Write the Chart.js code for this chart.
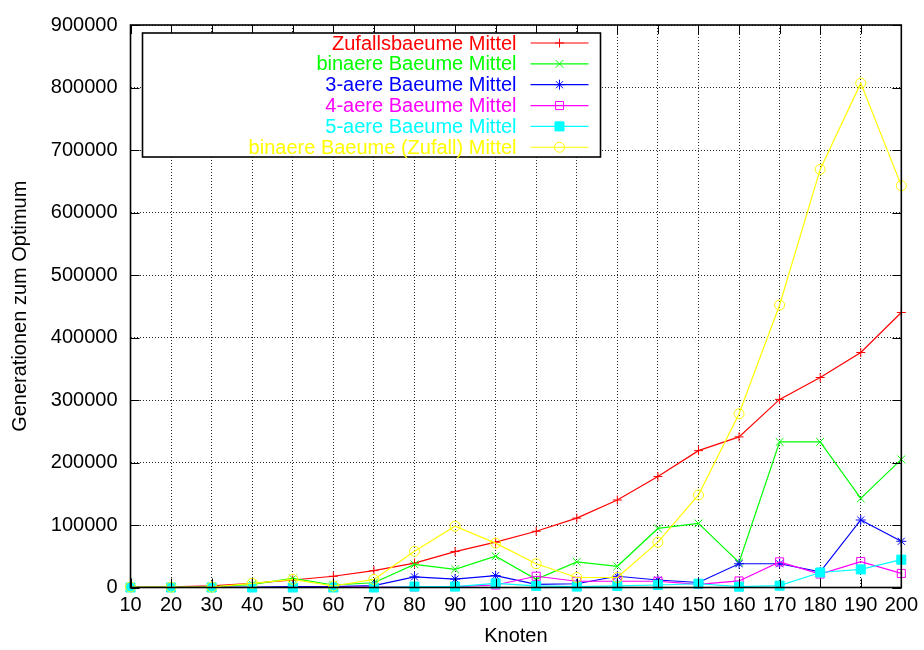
<!DOCTYPE html>
<html>
<head>
<meta charset="utf-8">
<title>Generationen zum Optimum</title>
<script src="https://cdn.jsdelivr.net/npm/chart.js"></script>
<style>
  body { margin: 0; background: #fff; }
</style>
</head>
<body>
<canvas id="chartKnoten" width="924" height="650"></canvas>
<script>
      // Knotenanzahl (x-Achse)
      const knoten = [10, 20, 30, 40, 50, 60, 70, 80, 90, 100, 110, 120, 130, 140, 150, 160, 170, 180, 190, 200];
      const yTicks = [0, 100000, 200000, 300000, 400000, 500000, 600000, 700000, 800000, 900000];

      // Mittelwerte der Generationen bis zum Optimum
      const zufallsbaeume = [300, 1000, 2500, 6500, 12000, 18000, 27000, 39000, 57500, 72500, 90000, 111000, 140000, 177500, 219000, 241000, 301000, 336000, 376000, 440000];
      const binaereBaeume = [200, 500, 1000, 5000, 14500, 4000, 7600, 37000, 29000, 50000, 13000, 41000, 34000, 94500, 102500, 40000, 233000, 233000, 142500, 205000];
      const dreiaereBaeume = [100, 200, 300, 800, 1500, 1500, 3000, 17000, 13500, 19000, 5000, 6000, 18000, 12000, 8000, 38000, 38000, 25000, 108000, 74000];
      const vieraereBaeume = [0, 0, 0, 0, 0, 200, 500, 1000, 1500, 4000, 18000, 10000, 10000, 10000, 5000, 10500, 41000, 21500, 41500, 22500];
      const fuenfaereBaeume = [0, 0, 0, 0, 0, 0, 0, 1500, 1500, 6500, 2500, 1500, 2500, 4000, 6000, 1300, 2900, 24000, 29000, 44500];
      const binaereZufall = [800, 600, 700, 6600, 13000, 2400, 13000, 58000, 98000, 71000, 38000, 16000, 16000, 72500, 148000, 278000, 452000, 669000, 807000, 643000];

      const FONT = "'Liberation Sans', Arial, Helvetica, sans-serif";

      const makeSet = (label, data, color, pointStyle, radius, fill) => ({
        label : label,
        data : data,
        borderColor : color,
        backgroundColor : fill ? color : 'rgba(0,0,0,0)',
        pointBorderColor : color,
        pointBackgroundColor : fill ? color : 'rgba(0,0,0,0)',
        pointStyle : pointStyle,
        pointRadius : radius,
        pointHoverRadius : radius,
        pointBorderWidth : 1,
        borderWidth : 1.2,
        tension : 0,
        clip : false
      });

      const datasets = [
        makeSet('Zufallsbaeume Mittel', zufallsbaeume, '#ff0000', 'cross', 4.5, false),
        makeSet('binaere Baeume Mittel', binaereBaeume, '#00ff00', 'crossRot', 5.5, false),
        makeSet('3-aere Baeume Mittel', dreiaereBaeume, '#0000ff', 'star', 5, false),
        makeSet('4-aere Baeume Mittel', vieraereBaeume, '#ff00ff', 'rect', 5.7, false),
        makeSet('5-aere Baeume Mittel', fuenfaereBaeume, '#00ffff', 'rect', 6.4, true),
        makeSet('binaere Baeume (Zufall) Mittel', binaereZufall, '#ffff00', 'circle', 5, false)
      ];
      // spaetere Reihen liegen oben
      datasets.forEach((ds, i) => { ds.order = datasets.length - i; });

      //Rahmen mit Ticks nach innen
      const frameTicks = {
        id : 'frameTicks',
        afterDraw(chart) {
          const {ctx, chartArea : a, scales} = chart;
          const len = 9;
          ctx.save();
          ctx.strokeStyle = '#000';
          ctx.lineWidth = 1;
          ctx.beginPath();
          scales.x.ticks.forEach((t, i) => {
            const x = Math.round(scales.x.getPixelForTick(i)) + 0.5;
            ctx.moveTo(x, a.bottom); ctx.lineTo(x, a.bottom - len);
            ctx.moveTo(x, a.top); ctx.lineTo(x, a.top + len);
          });
          scales.y.ticks.forEach((t, i) => {
            const y = Math.round(scales.y.getPixelForTick(i)) + 0.5;
            ctx.moveTo(a.left, y); ctx.lineTo(a.left + len, y);
            ctx.moveTo(a.right, y); ctx.lineTo(a.right - len, y);
          });
          ctx.stroke();
          ctx.lineWidth = 1.6;
          ctx.strokeRect(a.left, a.top, a.right - a.left, a.bottom - a.top);
          ctx.restore();
        }
      };

      //Legende oben links, Text rechtsbuendig und Linienprobe rechts
      const legendBox = {
        id : 'legendBox',
        afterDraw(chart) {
          const {ctx, chartArea : a} = chart;
          const x0 = a.left + 12, y0 = a.top + 8;
          const w = 458, h = 124, rowH = 20.85;
          ctx.save();
          ctx.fillStyle = '#fff';
          ctx.fillRect(x0, y0, w, h);
          ctx.strokeStyle = '#000';
          ctx.lineWidth = 1.6;
          ctx.strokeRect(x0, y0, w, h);
          ctx.font = '20px ' + FONT;
          ctx.textAlign = 'right';
          ctx.textBaseline = 'middle';
          chart.data.datasets.forEach((ds, i) => {
            const y = y0 + 10 + i * rowH;
            ctx.fillStyle = ds.borderColor;
            ctx.fillText(ds.label, x0 + 374, y + 1);
            ctx.strokeStyle = ds.borderColor;
            ctx.lineWidth = 1.2;
            ctx.beginPath();
            ctx.moveTo(x0 + 388, y);
            ctx.lineTo(x0 + 446, y);
            ctx.stroke();
            ctx.fillStyle = ds.pointBackgroundColor;
            ctx.lineWidth = 1;
            Chart.helpers.drawPoint(ctx, {pointStyle : ds.pointStyle, radius : ds.pointRadius, borderWidth : 1, rotation : 0}, x0 + 417, y);
          });
          ctx.restore();
        }
      };

      const chartKnoten = new Chart(document.getElementById('chartKnoten'), {
        type : 'line',
        data : {
          labels : knoten,
          datasets : datasets
        },
        options : {
          responsive : false,
          animation : false,
          devicePixelRatio : 1,
          layout : { padding : { top : 19, right : 22, left : 0, bottom : 0 } },
          plugins : {
            legend : { display : false },
            tooltip : { enabled : false }
          },
          scales : {
            x : {
              type : 'category',
              offset : false,
              afterFit : (s) => { s.height = 62.5; },
              grid : { color : 'rgba(0,0,0,0.85)', lineWidth : 1, drawTicks : false },
              border : { display : false, dash : [1, 2] },
              ticks : { color : '#000', font : { family : FONT, size : 20 }, padding : 6, maxRotation : 0, autoSkip : false },
              title : { display : true, text : 'Knoten', color : '#000', font : { family : FONT, size : 20 }, padding : { top : 0, bottom : 2 } }
            },
            y : {
              min : yTicks[0],
              max : yTicks[yTicks.length - 1],
              afterFit : (s) => { s.width = 130.5; },
              afterBuildTicks : (s) => { s.ticks = yTicks.map(v => ({ value : v })); },
              grid : { color : 'rgba(0,0,0,0.85)', lineWidth : 1, drawTicks : false },
              border : { display : false, dash : [1, 2] },
              ticks : { color : '#000', font : { family : FONT, size : 20 }, padding : 13, callback : (v) => String(v) },
              title : { display : true, text : 'Generationen zum Optimum', color : '#000', font : { family : FONT, size : 20 }, padding : { top : 8, bottom : 0 } }
            }
          }
        },
        plugins : [frameTicks, legendBox]
      });
</script>
</body>
</html>
